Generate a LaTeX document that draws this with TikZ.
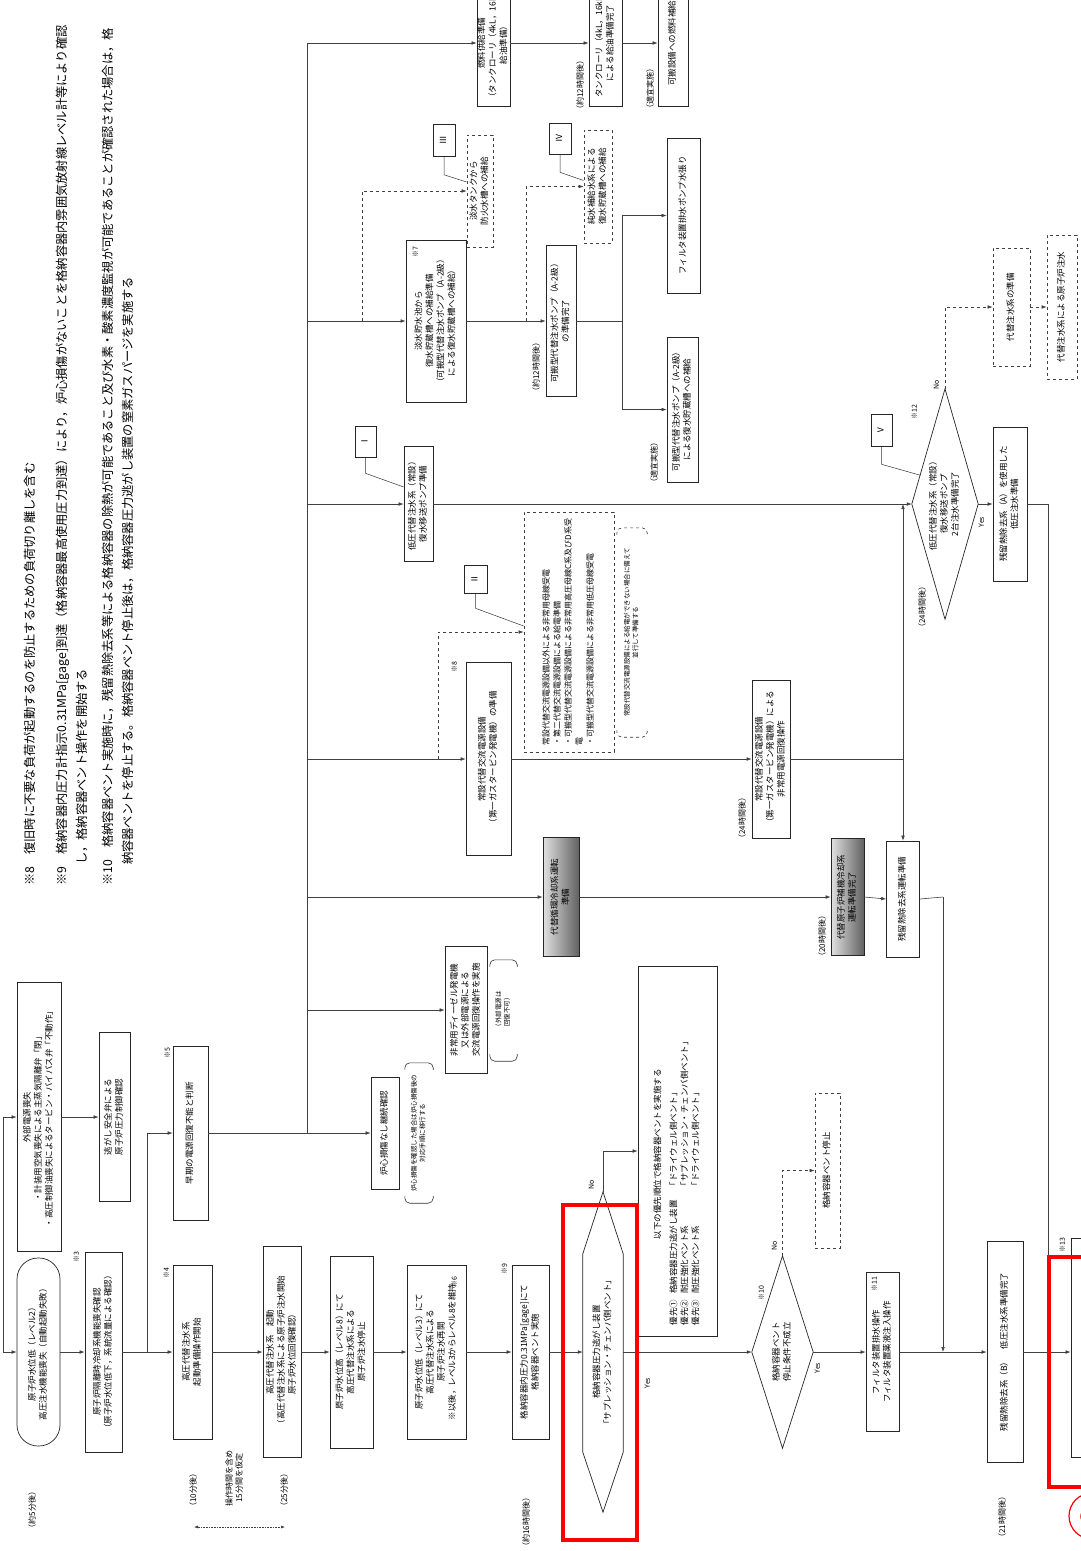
\documentclass[tikz,border=0pt]{standalone}
\usepackage{fontspec}
\setmainfont{Noto Sans CJK JP}
\usepackage{graphicx}
\usetikzlibrary{arrows.meta,calc}

\newcommand{\bx}{\fontsize{8.5}{11}\selectfont}
\newcommand{\ax}{\fontsize{8}{11}\selectfont}
\newcommand{\sx}{\fontsize{7}{9}\selectfont}
\newcommand{\tx}{\fontsize{8}{10}\selectfont}
\newcommand{\nx}{\fontsize{6.5}{8.5}\selectfont}
\newcommand{\nt}{\fontsize{12.25}{20}\selectfont}
\newcommand{\vt}[1]{\rotatebox{90}{\begin{tabular}{@{}c@{}}#1\end{tabular}}}
\newcommand{\vtl}[1]{\rotatebox{90}{\begin{tabular}{@{}l@{}}#1\end{tabular}}}

\begin{document}
\begin{tikzpicture}[x=1pt, y=-1pt,
  box/.style={draw=black!85, line width=0.7pt, inner sep=0pt, font=\bx},
  dbox/.style={box, dashed, draw=black!75},
  gbox/.style={box, left color=black!12, right color=black!62},
  txt/.style={inner sep=0pt, font=\bx},
  lbl/.style={inner sep=0pt, font=\sx},
  tlbl/.style={inner sep=0pt, font=\tx},
  tag/.style={draw=black!85, line width=0.6pt, inner sep=0pt, minimum width=22, minimum height=32, font=\bx},
  shp/.style={draw=black!85, line width=0.7pt},
  ln/.style={draw=black!75, line width=0.6pt},
  arr/.style={ln, -{Latex[length=5pt,width=3.6pt]}},
  darr/.style={arr, dashed},
  lead/.style={draw=black!80, line width=0.5pt},
  brk/.style={draw=black!80, line width=0.6pt, rounded corners=5pt},
  hl/.style={draw=red, line width=4pt},
  tarr/.style={draw=black!75, line width=0.6pt, densely dotted, {Latex[length=4pt,width=3pt]}-{Latex[length=4pt,width=3pt]}}
]
\useasboundingbox (0,0) rectangle (1080,1551);
\fill[white] (0,0) rectangle (1080,1551);

% notes
\node[anchor=south west, inner sep=0pt, font=\nt] (notes) at (20,886) {\vtl{%
※8　復旧時に不要な負荷が起動するのを防止するための負荷切り離しを含む\\[12pt]
※9　格納容器内圧力計指示0.31MPa[gage]到達（格納容器最高使用圧力到達）により，炉心損傷がないことを格納容器内雰囲気放射線レベル計等により確認\\
\hspace*{1.7em}し，格納容器ベント操作を開始する\\[6pt]
※10　格納容器ベント実施時に，残留熱除去系等による格納容器の除熱が可能であること及び水素・酸素濃度監視が可能であることが確認された場合は，格\\
\hspace*{1.7em}納容器ベントを停止する。格納容器ベント停止後は，格納容器圧力逃がし装置の窒素ガスパージを実施する}};

% main row
\node[box, rounded corners=21pt, minimum width=43, minimum height=188] (lv2) at (38.5,1352) {\vt{原子炉水位低（レベル2）\\高圧注水機能喪失（自動起動失敗）}};
\node[box, minimum width=37, minimum height=200] (ricloss) at (103.5,1352) {\vt{原子炉隔離時冷却系機能喪失確認\\（原子炉水位低下，系統流量による確認）}};
\node[box, minimum width=39, minimum height=174] (hpacprep) at (192.5,1352) {\vt{高圧代替注水系\\起動準備操作開始}};
\node[box, minimum width=38, minimum height=211] (hpacstart) at (282,1352) {\vt{高圧代替注水系　起動\\（高圧代替注水系による原子炉注水開始\\原子炉水位回復確認）}};
\node[box, minimum width=43, minimum height=192] (lv8stop) at (351.5,1352) {\vt{原子炉水位高（レベル8）にて\\高圧代替注水系による\\原子炉注水停止}};
\node[box, minimum width=59, minimum height=174] (lv3restart) at (436.5,1352) {\vt{原子炉水位低（レベル3）にて\\高圧代替注水系による\\原子炉注水再開\\※以後，レベル3からレベル8を維持}};
\node[box, minimum width=37, minimum height=174] (pcvvent) at (530.5,1352) {\vt{格納容器内圧力0.31MPa[gage]にて\\格納容器ベント実施}};
\node[txt, minimum width=40, minimum height=320] (dwvent) at (603,1352) {\vt{格納容器圧力逃がし装置\\「サプレッション・チェンバ側ベント」}};
\node[box, minimum width=79, minimum height=370] (priority) at (677.5,1151) {\rotatebox{90}{\begin{tabular}{@{}l@{\hspace{6pt}}l@{\hspace{10pt}}l@{}}
\multicolumn{3}{@{}l@{}}{\hspace*{86pt}以下の優先順位で格納容器ベントを実施する}\\[5pt]
優先①&格納容器圧力逃がし装置&「ドライウェル側ベント」\\
優先②&耐圧強化ベント系&「サプレッション・チェンバ側ベント」\\
優先③&耐圧強化ベント系&「ドライウェル側ベント」
\end{tabular}\hspace*{60pt}}};
\node[txt, minimum width=61, minimum height=192] (ventstop) at (782.5,1352) {\vt{格納容器ベント\\停止条件不成立}};
\node[dbox, minimum width=25, minimum height=155] (ventstopped) at (827.5,1170.5) {\vt{格納容器ベント停止}};
\node[box, minimum width=33, minimum height=159] (filterdrain) at (882.5,1352) {\vt{フィルタ装置排水操作\\フィルタ装置薬液注入操作}};
\node[box, minimum width=36, minimum height=221] (rhrb) at (1005,1352) {\vt{残留熱除去系（B）　低圧注水系準備完了}};
\node[box, minimum width=39, minimum height=219] (note13) at (1090.5,1348) {};

% upper left
\node[box, minimum width=44, minimum height=269] (offsite) at (39,1117) {\vt{外部電源喪失\\・計装用空気喪失による主蒸気隔離弁「閉」\\・高圧制御油喪失によるタービン・バイパス弁「不動作」}};
\node[box, minimum width=31, minimum height=169] (srvcheck) at (114.5,1117) {\vt{逃がし安全弁による\\原子炉圧力制御確認}};
\node[box, minimum width=35, minimum height=174] (acloss) at (190.5,1133) {\vt{早期の電源回復不能と判断}};
\node[box, minimum width=28, minimum height=112] (nocore) at (385,1133) {\vt{炉心損傷なし継続確認}};
\node[txt, font=\nx, minimum width=28, minimum height=140] (nocorenote) at (419,1133) {\vt{炉心損傷を確認した場合は炉心損傷後の\\対応手順に移行する}};
\node[box, minimum width=42, minimum height=127] (dgrecover) at (466,1010) {\vt{非常用ディーゼル発電機\\又は外部電源による\\交流電源回復操作を実施}};
\node[txt, font=\nx, minimum width=27, minimum height=101] (dgnote) at (503.5,1010.5) {\vt{（外部電源は\\回復不可）}};

% power and cooling branch
\node[gbox, minimum width=36, minimum height=119] (altrcc) at (561,897) {\vt{代替循環冷却系運転\\準備}};
\node[gbox, minimum width=33, minimum height=117] (rcwprep) at (847.5,897) {\vt{代替原子炉補機冷却系\\運転準備完了}};
\node[box, minimum width=33, minimum height=116] (rhrprep) at (903,899) {\vt{残留熱除去系運転準備}};
\node[box, minimum width=45, minimum height=193] (gtgprep) at (488.5,759) {\vt{常設代替交流電源設備\\（第一ガスタービン発電機）の準備}};
\node[dbox, font=\ax, minimum width=90, minimum height=240] (altac) at (569,632) {\vtl{常設代替交流電源設備以外による非常用母線受電\\・第二代替交流電源設備による給電準備\\・可搬型代替交流電源設備による非常用高圧母線C系及びD系受\\電\\・可搬型代替交流電源設備による非常用低圧母線受電}};
\node[txt, font=\nx, minimum width=30, minimum height=209] (altacnote) at (632,632.5) {\vt{常設代替交流電源設備による給電ができない場合に備えて\\並行して準備する}};
\node[box, minimum width=38, minimum height=158] (gtgrecover) at (771,759) {\vt{常設代替交流電源設備\\（第一ガスタービン発電機）による\\非常用電源回復操作}};

% injection branch
\node[box, minimum width=29, minimum height=115] (lpprep) at (418.5,504) {\vt{低圧代替注水系（常設）\\復水移送ポンプ準備}};
\node[txt, minimum width=66, minimum height=230] (lpready) at (945,504) {\vt{低圧代替注水系（常設）\\復水移送ポンプ\\2台注水準備完了}};
\node[box, minimum width=34, minimum height=154] (rhraprep) at (1010,504) {\vt{残留熱除去系（A）を使用した\\低圧注水準備}};
\node[dbox, minimum width=37, minimum height=118] (altinj) at (1011.5,307) {\vt{代替注水系の準備}};
\node[dbox, minimum width=30, minimum height=144] (altinj2) at (1062,307) {\vt{代替注水系による原子炉注水}};

% water supply branch
\node[box, minimum width=60, minimum height=162] (cspfill) at (436,321) {\vt{淡水貯水池から\\復水貯蔵槽への補給準備\\（可搬型代替注水ポンプ（A-2級）\\による復水貯蔵槽への補給）}};
\node[dbox, minimum width=26, minimum height=112] (fptank) at (480,191) {\vt{淡水タンクから\\防火水槽への補給}};
\node[box, minimum width=30, minimum height=151] (pumpready) at (561,321) {\vt{可搬型代替注水ポンプ（A-2級）\\の準備完了}};
\node[dbox, minimum width=28, minimum height=113] (mwfill) at (598,186.5) {\vt{純水補給水系による\\復水貯蔵槽への補給}};
\node[box, minimum width=33, minimum height=155] (filterfill) at (683.5,215.5) {\vt{フィルタ装置排水ポンプ水張り}};
\node[box, minimum width=31, minimum height=145] (cspfill2) at (682.5,409.5) {\vt{可搬型代替注水ポンプ（A-2級）\\による復水貯蔵槽への補給}};

% fuel branch
\node[box, minimum width=33, minimum height=126] (fuelprep) at (493.5,43) {\vt{燃料供給準備\\（タンクローリ（4kL，16kL）\\給油準備）}};
\node[box, minimum width=33, minimum height=126] (lorry) at (605.5,43) {\vt{タンクローリ（4kL，16kL）\\による給油準備完了}};
\node[box, minimum width=30, minimum height=126] (refuel) at (673,43) {\vt{可搬設備への燃料補給}};

% reference tags
\node[tag, minimum width=21, minimum height=31] (tagI) at (365.5,441.5) {\vt{Ⅰ}};
\node[tag, minimum width=23, minimum height=28] (tagII) at (475.5,579) {\vt{Ⅱ}};
\node[tag] (tagIII) at (444,140.5) {\vt{Ⅲ}};
\node[tag, minimum height=31] (tagIV) at (560,138.5) {\vt{Ⅳ}};
\node[tag, minimum width=21] (tagV) at (881.5,430) {\vt{Ⅴ}};

% shapes
\draw[shp] (dwvent.north) -- ($(dwvent.north west)+(0,62)$) -- ($(dwvent.south west)+(0,-60)$) -- (dwvent.south) -- ($(dwvent.south east)+(0,-60)$) -- ($(dwvent.north east)+(0,62)$) -- cycle;
\draw[shp] (ventstop.north) -- (ventstop.east) -- (ventstop.south) -- (ventstop.west) -- cycle;
\draw[shp] (lpready.north) -- (lpready.east) -- (lpready.south) -- (lpready.west) -- cycle;
\draw[brk] ($(nocorenote.north west)+(0,7)$) -- (nocorenote.north west) -- (nocorenote.north east) -- ($(nocorenote.north east)+(0,7)$);
\draw[brk] ($(nocorenote.south west)+(0,-7)$) -- (nocorenote.south west) -- (nocorenote.south east) -- ($(nocorenote.south east)+(0,-7)$);
\draw[brk] ($(dgnote.north west)+(0,7)$) -- (dgnote.north west) -- (dgnote.north east) -- ($(dgnote.north east)+(0,7)$);
\draw[brk] ($(dgnote.south west)+(0,-7)$) -- (dgnote.south west) -- (dgnote.south east) -- ($(dgnote.south east)+(0,-7)$);
\draw[brk, dashed] ($(altacnote.north west)+(0,7)$) -- (altacnote.north west) -- (altacnote.north east) -- ($(altacnote.north east)+(0,7)$);
\draw[brk, dashed] ($(altacnote.south west)+(0,-7)$) -- (altacnote.south west) -- (altacnote.south east) -- ($(altacnote.south east)+(0,-7)$);

% junctions
\coordinate (mainy) at (0,1352);
\coordinate (entry) at (3,1352);
\coordinate (br5) at (147,1352);
\coordinate (tbot) at (307,1133);
\coordinate (ttop) at (307,43);
\coordinate (d3) at (362,321);
\coordinate (d4) at (526,321);
\coordinate (j4) at (622,321);
\coordinate (d2) at (438,759);
\coordinate (j8) at (903,759);
\coordinate (j9) at (943,897);
\coordinate (j12) at (1048,504);
\coordinate (tspan) at (0,1527);

% main flow
\draw[arr] (entry) -- (lv2.west |- mainy);
\draw[arr] (entry) |- (offsite.west);
\draw[arr] (offsite.east) -- (srvcheck.west);
\draw[arr] (lv2.east |- mainy) -- (ricloss.west |- mainy);
\draw[arr] (ricloss.east |- mainy) -- (hpacprep.west |- mainy);
\draw[arr] (br5) |- (acloss.west);
\draw[arr] (hpacprep.east |- mainy) -- (hpacstart.west |- mainy);
\draw[arr] (hpacstart.east |- mainy) -- (lv8stop.west |- mainy);
\draw[arr] (lv8stop.east |- mainy) -- (lv3restart.west |- mainy);
\draw[arr] (lv3restart.east |- mainy) -- (pcvvent.west |- mainy);
\draw[arr] (pcvvent.east |- mainy) -- (dwvent.west |- mainy);
\draw[arr] (dwvent.east |- mainy) -- (ventstop.west |- mainy);
\draw[arr] (dwvent.north) |- (priority.west);
\draw[arr] (ventstop.east |- mainy) -- (filterdrain.west |- mainy);
\draw[darr] (ventstop.north) |- (ventstopped.west);
\draw[arr] (filterdrain.east |- mainy) -- (rhrb.west |- mainy);
\draw[arr] (rhrb.east |- mainy) -- (note13.west |- mainy);

% trunk and branches
\draw[arr] (acloss.east) -- (nocore.west);
\draw[ln] (tbot) -- (ttop);
\draw[arr] (ttop) -- (fuelprep.west);
\draw[arr] (fuelprep.east) -- (lorry.west);
\draw[arr] (lorry.east) -- (refuel.west);
\draw[arr] (ttop |- cspfill.west) -- (cspfill.west);
\draw[darr] (d3) |- (fptank.west);
\draw[arr] (cspfill.east) -- (pumpready.west);
\draw[darr] (d4) |- (mwfill.west);
\draw[ln] (pumpready.east) -- (j4);
\draw[arr] (j4) |- (filterfill.west);
\draw[arr] (j4) |- (cspfill2.west);
\draw[arr] (ttop |- lpprep.west) -- (lpprep.west);
\draw[arr] (lpprep.east) -- (lpready.west);
\draw[arr] (lpready.east) -- (rhraprep.west);
\draw[ln] (rhraprep.east) -- (j12) -- (j12 |- mainy);
\draw[darr] (lpready.north) |- (altinj.west);
\draw[darr] (altinj.east) -- (altinj2.west);
\draw[arr] (ttop |- gtgprep.west) -- (gtgprep.west);
\draw[darr] (d2) |- (altac.west);
\draw[arr] (gtgprep.east) -- (gtgrecover.west);
\draw[ln] (gtgrecover.east) -- (j8);
\draw[arr] (j8) -- (j8 |- lpready.west);
\draw[arr] (j8) -- (rhrprep.north);
\draw[arr] (ttop |- altrcc.west) -- (altrcc.west);
\draw[arr] (altrcc.east) -- (rcwprep.west);
\draw[arr] (rcwprep.east) -- (rhrprep.west);
\draw[ln] (rhrprep.east) -- (j9);
\draw[arr] (j9) -- (j9 |- mainy);
\draw[arr] (ttop |- dgrecover.west) -- (dgrecover.west);

% tag leaders
\draw[lead] (tagI.south) -- ++(0,16) -- ($(lpprep.west)+(0,-17)$);
\draw[lead] (tagII.south) -- ++(0,15) -- ($(altac.west)+(0,-6)$);
\draw[lead] (tagIII.south) -- ++(0,18) -- ($(fptank.west)+(0,-9)$);
\draw[lead] (tagIV.south) -- ++(0,18) -- ($(mwfill.west)+(0,-6)$);
\draw[lead] (tagV.south) -- ++(0,18) -- ($(lpready.west)!0.25!(lpready.north)$);

% marks
\node[lbl] (s3) at (77,1257) {\vt{※3}};
\node[lbl] (s4) at (167,1273) {\vt{※4}};
\node[lbl] (s5) at (168,1053) {\vt{※5}};
\node[lbl] (s6) at (455,1282) {\vt{※6}};
\node[lbl] (s7) at (416,252) {\vt{※7}};
\node[lbl] (s8) at (455,667) {\vt{※8}};
\node[lbl] (s9) at (505,1269) {\vt{※9}};
\node[lbl] (s10) at (762,1293) {\vt{※10}};
\node[lbl] (s11) at (875,1284) {\vt{※11}};
\node[lbl] (s12) at (915,412) {\vt{※12}};
\node[lbl] (s13) at (1063,1245) {\vt{※13}};
\node[lbl] (no1) at (592,1185) {\vt{No}};
\node[lbl] (no2) at (775,1246) {\vt{No}};
\node[lbl] (no3) at (937,385) {\vt{No}};
\node[lbl] (yes1) at (648,1383) {\vt{Yes}};
\node[lbl] (yes2) at (818,1368) {\vt{Yes}};
\node[lbl] (yes3) at (982,522) {\vt{Yes}};

% times
\node[tlbl] (t5) at (33,1510) {\vt{（約5分後）}};
\node[tlbl] (t10) at (194,1490) {\vt{（10分後）}};
\node[tlbl] (t25) at (285,1490) {\vt{（25分後）}};
\node[tlbl] (top) at (235,1478) {\vt{操作時間を含め\\15分間を仮定}};
\draw[tarr] (t10 |- tspan) -- (t25 |- tspan);
\node[tlbl] (t16) at (527,1522) {\vt{（約16時間後）}};
\node[tlbl] (t21) at (1003,1517) {\vt{（21時間後）}};
\node[tlbl] (t12a) at (581,85) {\vt{（約12時間後）}};
\node[tlbl] (tad1) at (651,88) {\vt{（適宜実施）}};
\node[tlbl] (t12b) at (537,367) {\vt{（約12時間後）}};
\node[tlbl] (tad2) at (655,462) {\vt{（適宜実施）}};
\node[tlbl] (t24a) at (743,818) {\vt{（24時間後）}};
\node[tlbl] (t24b) at (923,607) {\vt{（24時間後）}};
\node[tlbl] (t20) at (823,936) {\vt{（20時間後）}};

% highlights
\draw[hl] (563,1205) rectangle (637,1540);
\draw[hl] (1049,1257) rectangle (1100,1487);
\node[draw=red, circle, line width=1.2pt, minimum size=46, text=red, inner sep=0pt, font=\fontsize{30}{30}\selectfont] (mark2) at (1092,1516) {\rotatebox{90}{2}};
\end{tikzpicture}
\end{document}
